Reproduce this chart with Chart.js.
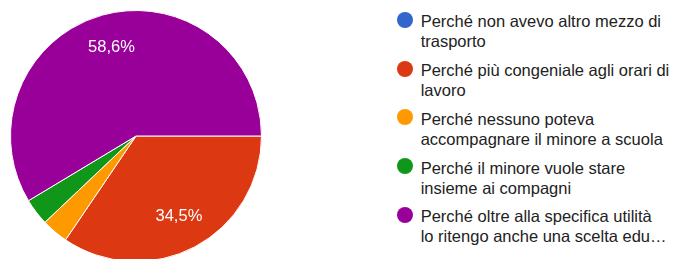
<!DOCTYPE html>
<html>
<head>
<meta charset="utf-8">
<script src="https://cdn.jsdelivr.net/npm/chart.js@4/dist/chart.umd.min.js"></script>
<style>
  html, body { margin: 0; padding: 0; background: #fff; overflow: hidden; }
  #wrap { position: relative; width: 673px; height: 259px; overflow: hidden; }
  #pieBox { position: absolute; left: 0; top: 0; width: 272px; height: 272px; }
  #legend { position: absolute; left: 396px; top: 0; width: 277px; }
  .item { position: absolute; left: 0; width: 277px; font-family: "Liberation Sans", Arial, sans-serif;
          font-size: 16.5px; line-height: 20px; color: #222; }
  .dot { position: absolute; left: 0.7px; top: 0.5px; width: 16px; height: 16px; border-radius: 50%; }
  .txt { position: absolute; left: 24.7px; width: 252px; white-space: nowrap; }
</style>
</head>
<body>
<div id="wrap">
  <div id="pieBox"><canvas id="myChart" width="272" height="272"></canvas></div>
  <div id="legend"></div>
</div>
<script>
// setup
const labels = [
  'Perché non avevo altro mezzo di trasporto',
  'Perché più congeniale agli orari di lavoro',
  'Perché nessuno poteva accompagnare il minore a scuola',
  'Perché il minore vuole stare insieme ai compagni',
  'Perché oltre alla specifica utilità lo ritengo anche una scelta educativa'
];
// legend lines as shown (wrapped / truncated)
const legendLines = [
  ['Perché non avevo altro mezzo di', 'trasporto'],
  ['Perché più congeniale agli orari di', 'lavoro'],
  ['Perché nessuno poteva', 'accompagnare il minore a scuola'],
  ['Perché il minore vuole stare', 'insieme ai compagni'],
  ['Perché oltre alla specifica utilità', 'lo ritengo anche una scelta edu…']
];
const counts = [0, 10, 1, 1, 17];
const colors = ['#3366cc', '#dc3912', '#ff9900', '#109618', '#990099'];

const total = counts.reduce((a, b) => a + b, 0);

// percent labels inside the big slices
const sliceLabels = {
  id: 'sliceLabels',
  afterDatasetsDraw(chart) {
    const ctx = chart.ctx;
    const meta = chart.getDatasetMeta(0);
    ctx.save();
    ctx.font = '16.5px "Liberation Sans", Arial, sans-serif';
    ctx.fillStyle = '#ffffff';
    ctx.textAlign = 'center';
    ctx.textBaseline = 'middle';
    meta.data.forEach((arc, i) => {
      const pct = counts[i] / total * 100;
      if (pct < 5) return;
      const mid = (arc.startAngle + arc.endAngle) / 2;
      const d = arc.outerRadius * 0.73;
      const x = arc.x + Math.cos(mid) * d;
      const y = arc.y + Math.sin(mid) * d;
      ctx.fillText(pct.toFixed(1).replace('.', ',') + '%', x, y);
    });
    ctx.restore();
  }
};

// config
const config = {
  type: 'pie',
  data: {
    labels,
    datasets: [{
      data: counts,
      backgroundColor: colors,
      borderColor: '#ffffff',
      borderWidth: 1
    }]
  },
  options: {
    responsive: false,
    animation: false,
    rotation: 90,
    layout: { padding: 10 },
    plugins: {
      legend: { display: false },
      tooltip: { enabled: false }
    }
  },
  plugins: [sliceLabels]
};

// render init block
const myChart = new Chart(document.getElementById('myChart'), config);

// html legend
const legend = document.getElementById('legend');
legendLines.forEach((lines, i) => {
  const item = document.createElement('div');
  item.className = 'item';
  item.style.top = (11.2 + 48.8 * i) + 'px';
  const dot = document.createElement('div');
  dot.className = 'dot';
  dot.style.background = colors[i];
  item.appendChild(dot);
  const txt = document.createElement('div');
  txt.className = 'txt';
  txt.innerHTML = lines.join('<br>');
  item.appendChild(txt);
  legend.appendChild(item);
});
</script>
</body>
</html>
